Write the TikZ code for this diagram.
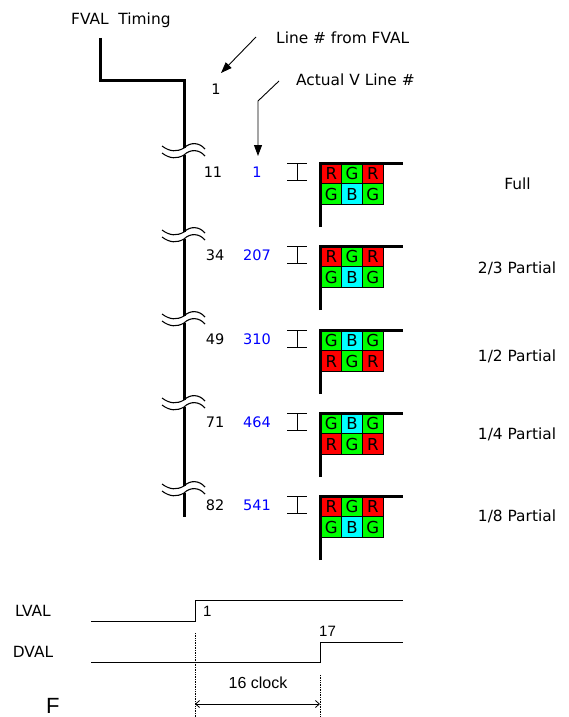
\documentclass[tikz,border=0pt]{standalone}
\usepackage{fontspec}
\setmainfont{DejaVu Sans}
\newfontfamily\arialf{Liberation Sans}
\usetikzlibrary{arrows.meta}
\definecolor{cR}{RGB}{255,0,0}
\definecolor{cG}{RGB}{0,255,0}
\definecolor{cB}{RGB}{0,255,255}
\definecolor{numblue}{RGB}{0,0,255}
\newcommand\mkflag[8]{%
  \node[cell,fill=c#3] (#2a) at (331.35,#1+10.35) {#3};
  \node[cell,fill=c#4] (#2b) at (352.05,#1+10.35) {#4};
  \node[cell,fill=c#5] (#2c) at (372.75,#1+10.35) {#5};
  \node[cell,fill=c#6] (#2d) at (331.35,#1+31.05) {#6};
  \node[cell,fill=c#7] (#2e) at (352.05,#1+31.05) {#7};
  \node[cell,fill=c#8] (#2f) at (372.75,#1+31.05) {#8};
  \draw[flagline] (320,#1+64) -- (320,#1) -- (403,#1);
  \draw[thinl] (287,#1) -- (307,#1) (297,#1) -- (297,#1+17) (287,#1+17) -- (307,#1+17);
}
\begin{document}
\begin{tikzpicture}[x=1pt,y=-1pt,
  lbl/.style={inner sep=0pt, font=\fontsize{15.4}{18}\selectfont},
  num/.style={inner sep=0pt, font=\fontsize{14.5}{16}\selectfont},
  arl/.style={inner sep=0pt, font=\arialf\fontsize{15}{18}\selectfont},
  sig/.style={line width=3pt, line join=miter},
  flagline/.style={line width=3pt, line join=miter},
  thinl/.style={line width=0.9pt},
  cell/.style={draw, line width=0.8pt, minimum size=20.7pt, inner sep=0pt, font=\fontsize{16.5}{18}\selectfont},
  wave/.style={line width=1.1pt},
  ptr/.style={line width=0.9pt, -{Triangle[length=11pt,width=8pt]}},
  dimarrow/.style={line width=0.8pt, {Straight Barb[length=4pt,width=7pt]}-{Straight Barb[length=4pt,width=7pt]}}
  ]
\useasboundingbox (0,0) rectangle (568,717);
\fill[white] (0,0) rectangle (568,717);

% top titles
\node[lbl, anchor=base west] (title) at (71,24.5) {FVAL~~Timing};
\node[lbl, anchor=west] (lfrom) at (276,38) {Line \# from FVAL};
\node[lbl, anchor=west] (lact) at (296,80) {Actual V Line \#};
\node[num] (one) at (216,89) {1};

% pointer arrows
\coordinate (p1s) at (256,37);
\coordinate (p1e) at (221,73);
\draw[ptr] (p1s) -- (p1e);
\coordinate (p2s) at (279,81);
\coordinate (p2m) at (258,101);
\coordinate (p2e) at (258,156);
\draw[ptr] (p2s) -- (p2m) -- (p2e);

% FVAL waveform with breaks
\draw[sig] (100,38) -- (100,80) -- (184,80) -- (184,148);
\draw[sig] (184,155) -- (184,232);
\draw[sig] (184,239) -- (184,316);
\draw[sig] (184,323) -- (184,400);
\draw[sig] (184,407) -- (184,486);
\draw[sig] (184,493) -- (184,517);
\foreach \c in {152,236,320,404,490} {
  \draw[wave] (162,\c-6) .. controls (170,\c) and (177,\c) .. (184,\c-4) .. controls (190,\c-10) and (199,\c-10) .. (205,\c-3);
  \draw[wave] (162,\c+1) .. controls (170,\c+7) and (177,\c+7) .. (184,\c+3) .. controls (190,\c-3) and (199,\c-3) .. (205,\c+4);
}

% rows
\node[num] (n1) at (213,172) {11};
\node[num, text=numblue] (v1) at (257,172) {1};
\mkflag{163}{fa}{R}{G}{R}{G}{B}{G}
\node[lbl] (t1) at (517.5,184) {Full};

\node[num] (n2) at (215,255) {34};
\node[num, text=numblue] (v2) at (257,255) {207};
\mkflag{246}{fb}{R}{G}{R}{G}{B}{G}
\node[lbl] (t2) at (517,268) {2/3 Partial};

\node[num] (n3) at (215,339) {49};
\node[num, text=numblue] (v3) at (257,339) {310};
\mkflag{330}{fc}{G}{B}{G}{R}{G}{R}
\node[lbl] (t3) at (517,356) {1/2 Partial};

\node[num] (n4) at (215,422) {71};
\node[num, text=numblue] (v4) at (257,422) {464};
\mkflag{413}{fd}{G}{B}{G}{R}{G}{R}
\node[lbl] (t4) at (517,434) {1/4 Partial};

\node[num] (n5) at (215,505) {82};
\node[num, text=numblue] (v5) at (257,505) {541};
\mkflag{496}{fe}{R}{G}{R}{G}{B}{G}
\node[lbl] (t5) at (517,516) {1/8 Partial};

% bottom timing
\node[lbl] (lval) at (33,611) {LVAL};
\node[lbl] (dval) at (33,652) {DVAL};
\draw[thinl] (91,621) -- (195,621) -- (195,600) -- (403,600);
\draw[thinl] (91,662) -- (320,662) -- (320,642) -- (403,642);
\node[arl, anchor=west] (l1) at (203,611) {1};
\node[arl, anchor=west] (l17) at (319,631) {17};
\draw[line width=0.7pt, densely dotted] (195,633) -- (195,717);
\draw[line width=0.7pt, densely dotted] (320,675) -- (320,717);
\coordinate (d1) at (195,704);
\coordinate (d2) at (320,704);
\draw[dimarrow] (d1) -- (d2);
\node[arl, font=\arialf\fontsize{16}{18}\selectfont] (clk) at (258,683) {16 clock};
\node[inner sep=0pt, anchor=base west, font=\arialf\fontsize{22}{24}\selectfont] (ff) at (46,713.5) {F};
\end{tikzpicture}
\end{document}
